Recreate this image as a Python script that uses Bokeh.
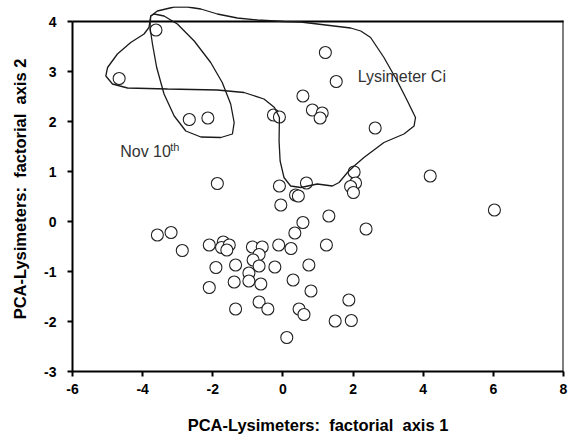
from bokeh.plotting import figure
from bokeh.models import Range1d, FixedTicker
from bokeh.embed import file_html
from bokeh.resources import INLINE
from bokeh.core.properties import value

# ---------------- data ----------------
pc1 = [-3.62, -4.67, -2.67, -2.14, -0.27, -0.10, 1.21, 1.52, 0.57, 0.84,
       1.12, 1.06, 2.63, 4.20, -1.87, -0.10, 0.67, 0.36, 0.44, 2.03,
       2.07, 1.93, 2.01, -0.06, 6.03, 1.31, 0.57, 2.37, 0.34,
       -3.58, -3.19, -2.87, -2.10, -1.70, -1.75, -1.53, -1.60, -0.87, -0.59,
       -0.68, -0.12, 0.23, 1.24, -0.85, -1.91, -1.35, -0.68, -0.23, 0.74,
       -0.97, -2.10, -1.39, -0.97, -0.63, 0.29, 0.80, 1.88, -1.35, -0.68,
       -0.43, 0.46, 0.60, 1.49, 1.95, 0.11]
pc2 = [3.83, 2.86, 2.04, 2.07, 2.13, 2.09, 3.38, 2.80, 2.51, 2.23,
       2.17, 2.07, 1.87, 0.91, 0.76, 0.71, 0.77, 0.53, 0.51, 0.99,
       0.77, 0.70, 0.58, 0.33, 0.23, 0.11, -0.02, -0.15, -0.23,
       -0.27, -0.22, -0.58, -0.47, -0.41, -0.52, -0.47, -0.57, -0.51, -0.51,
       -0.66, -0.47, -0.54, -0.47, -0.77, -0.92, -0.87, -0.89, -0.91, -0.87,
       -1.03, -1.32, -1.21, -1.19, -1.25, -1.17, -1.39, -1.57, -1.75, -1.61,
       -1.75, -1.75, -1.86, -1.99, -1.98, -2.32]

# hand-drawn group outlines (data units)
nov_x = [-3.77, -3.79, -3.72, -3.60, -3.39, -3.10, -2.77, -2.34, -1.77, -1.44,
         -1.39, -1.49, -1.73, -2.06, -2.53, -3.01, -3.39, -3.67]
nov_y = [4.11, 3.88, 3.55, 3.08, 2.55, 2.11, 1.81, 1.69, 1.68, 1.75,
         1.98, 2.35, 2.78, 3.18, 3.61, 3.95, 4.11, 4.15]

lys_x = [-3.77, -3.58, -3.10, -2.72, -2.34, -1.87, -1.30, -0.73, 0.03, 0.51,
         0.98, 1.93, 2.22, 2.50, 2.88, 3.26, 3.55, 3.78, 3.74, 3.45,
         2.88, 2.50, 2.31, 2.03, 1.84, 1.60, 1.41, 0.98, 0.51, 0.22,
         0.03, -0.08, -0.11, -0.10, -0.24, -0.54, -1.11, -1.87, -3.29, -4.43,
         -4.86, -5.05, -5.00, -4.72, -4.34, -3.96, -3.82]
lys_y = [4.11, 4.21, 4.29, 4.29, 4.25, 4.15, 4.07, 4.03, 4.00, 3.99,
         3.95, 3.87, 3.81, 3.68, 3.28, 2.81, 2.41, 2.08, 1.91, 1.75,
         1.58, 1.38, 1.28, 1.11, 0.98, 0.78, 0.71, 0.75, 0.68, 0.71,
         0.88, 1.21, 1.61, 2.08, 2.28, 2.45, 2.58, 2.63, 2.65, 2.67,
         2.75, 2.91, 3.08, 3.35, 3.58, 3.75, 3.88]

x_ticks = [-6, -4, -2, 0, 2, 4, 6, 8]
y_ticks = [-3, -2, -1, 0, 1, 2, 3, 4]
X_MIN, X_MAX = -6, 8
Y_MIN, Y_MAX = -3, 4

labels_txt = ["Lysimeter Ci", "Nov 10"]
labels_x = [2.13, -4.64]
labels_y = [2.90, 1.40]

NB = "\u00a0"
x_title = "PCA-Lysimeters:" + NB + " factorial" + NB + " axis 1"
y_title = "PCA-Lysimeters:" + NB + " factorial" + NB + " axis 2"

# ---------------- figure ----------------
FONT = "Liberation Sans"
p = figure(width=574, height=443,
           x_range=Range1d(X_MIN, X_MAX), y_range=Range1d(Y_MIN, 4.3),
           output_backend="svg", toolbar_location=None,
           min_border_left=72, min_border_right=11,
           min_border_top=6, min_border_bottom=72)
p.outline_line_color = None
p.xgrid.grid_line_color = None
p.ygrid.grid_line_color = None
p.background_fill_color = "white"
p.border_fill_color = "white"

# frame (top + right)
p.segment(x0=[X_MIN], y0=[Y_MAX], x1=[X_MAX], y1=[Y_MAX],
          line_color="black", line_width=2, line_cap="square")
p.segment(x0=[X_MAX], y0=[Y_MIN], x1=[X_MAX], y1=[Y_MAX],
          line_color="black", line_width=2, line_cap="square")

# points
p.scatter(pc1, pc2, size=12, marker="circle", fill_color="white",
          line_color="#222222", line_width=1.1)

# text annotations
p.text(x=labels_x, y=labels_y, text=labels_txt,
       text_font=value(FONT), text_font_size="16px", text_color="#333333",
       text_baseline="alphabetic", text_align="left")
p.text(x=[labels_x[1]], y=[labels_y[1]], text=["th"], x_offset=50, y_offset=-5,
       text_font=value(FONT), text_font_size="11px", text_color="#333333",
       text_baseline="alphabetic", text_align="left")

# outlines
p.patch(nov_x, nov_y, fill_color=None, line_color="#1a1a1a", line_width=1.3)
p.patch(lys_x, lys_y, fill_color=None, line_color="#1a1a1a", line_width=1.3)

# axes
for ax in (p.xaxis[0], p.yaxis[0]):
    ax.axis_line_width = 2
    ax.axis_line_color = "black"
    ax.major_tick_line_width = 2
    ax.major_tick_line_color = "black"
    ax.major_tick_out = 5
    ax.major_tick_in = 0
    ax.minor_tick_line_color = None
    ax.major_label_text_font = FONT
    ax.major_label_text_font_style = "bold"
    ax.major_label_text_font_size = "14px"
    ax.major_label_text_color = "black"
    ax.axis_label_text_font = FONT
    ax.axis_label_text_font_style = "bold"
    ax.axis_label_text_font_size = "16.5px"
    ax.axis_label_text_color = "black"

p.xaxis.ticker = FixedTicker(ticks=x_ticks)
p.yaxis.ticker = FixedTicker(ticks=y_ticks)
p.xaxis.major_label_overrides = {t: str(t) for t in x_ticks}
p.yaxis.major_label_overrides = {t: str(t) for t in y_ticks}
p.yaxis.bounds = (Y_MIN, Y_MAX)
p.xaxis.axis_label = x_title
p.yaxis.axis_label = y_title
p.xaxis.major_label_standoff = 7
p.yaxis.major_label_standoff = 11
p.xaxis.axis_label_standoff = 19
p.yaxis.axis_label_standoff = 12

open("out.html", "w").write(file_html(p, INLINE))
